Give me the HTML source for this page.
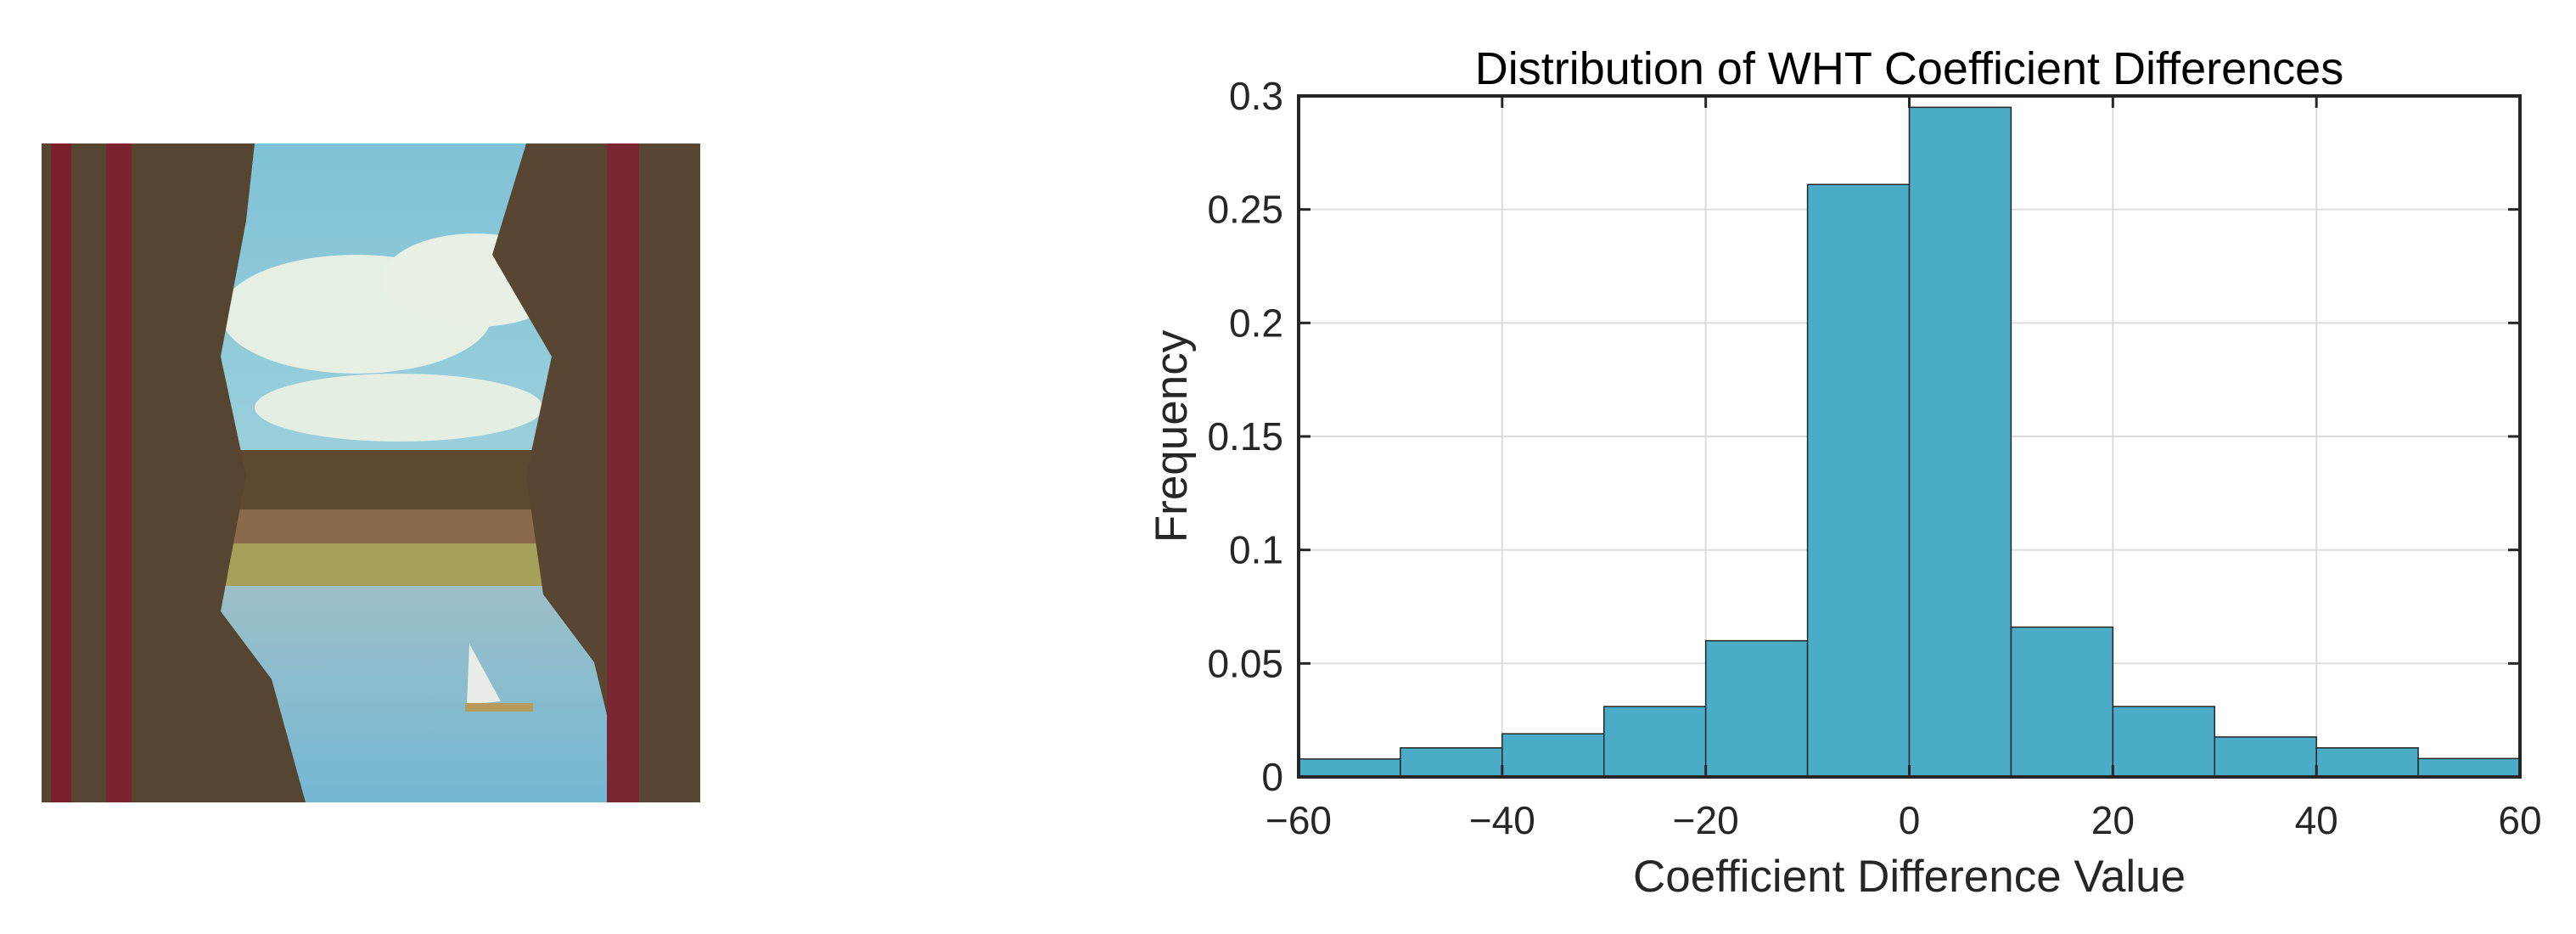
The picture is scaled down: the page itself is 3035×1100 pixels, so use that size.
<!DOCTYPE html>
<html><head><meta charset="utf-8">
<style>
html,body{margin:0;padding:0;background:#fff;}
body{width:3035px;height:1100px;position:relative;overflow:hidden;font-family:"Liberation Sans",Arial,sans-serif;}
svg{position:absolute;left:0;top:0;}
</style></head>
<body>
<svg width="3035" height="1100">
  <defs>
    <linearGradient id="sky" x1="0" y1="0" x2="0" y2="1">
      <stop offset="0" stop-color="#7fc2d6"/><stop offset="1" stop-color="#b9dde0"/>
    </linearGradient>
    <linearGradient id="lake" x1="0" y1="0" x2="0" y2="1">
      <stop offset="0" stop-color="#9cbfc8"/><stop offset="1" stop-color="#74b8d4"/>
    </linearGradient>
  </defs>
  <g id="photo">
    <rect x="49" y="169" width="776" height="776" fill="url(#sky)"/>
    <ellipse cx="420" cy="370" rx="160" ry="70" fill="#e6efe4"/>
    <ellipse cx="560" cy="330" rx="110" ry="55" fill="#e8f0e6"/>
    <ellipse cx="470" cy="480" rx="170" ry="40" fill="#e4eee2"/>
    <rect x="49" y="530" width="776" height="120" fill="#5e4a30"/>
    <rect x="260" y="600" width="400" height="40" fill="#8a6a4a"/>
    <rect x="260" y="640" width="400" height="50" fill="#a7a05a"/>
    <rect x="49" y="690" width="776" height="255" fill="url(#lake)"/>
    <path d="M49 169 H300 L290 260 L260 420 L290 560 L260 720 L320 800 L360 945 H49 Z" fill="#564530"/>
    <path d="M620 169 H825 V945 H740 L700 780 L640 700 L620 560 L650 420 L580 300 Z" fill="#584632"/>
    <rect x="60" y="169" width="24" height="776" fill="#7a1f2a"/>
    <rect x="125" y="169" width="30" height="776" fill="#7c2330"/>
    <rect x="715" y="169" width="38" height="776" fill="#7a2632"/>
    <path d="M553 758 L550 830 L590 826 Z" fill="#e9ece6"/>
    <rect x="548" y="828" width="80" height="10" fill="#b89a5a"/>
  </g>
  <g id="chart"></g>
</svg>
<script>
const binEdges = [-60,-50,-40,-30,-20,-10,0,10,20,30,40,50,60];
const freqValues = [0.0079,0.0128,0.019,0.031,0.060,0.261,0.295,0.066,0.031,0.0176,0.0128,0.0081];
const xTicks = [-60,-40,-20,0,20,40,60];
const xTickLabels = ["\u221260","\u221240","\u221220","0","20","40","60"];
const yTicks = [0,0.05,0.1,0.15,0.2,0.25,0.3];
const yTickLabels = ["0","0.05","0.1","0.15","0.2","0.25","0.3"];

const NS = "http://www.w3.org/2000/svg";
const L = 1530, R = 2969, T = 113, B = 915;
const xs = v => L + (v + 60) / 120 * (R - L);
const ys = v => B - v / 0.3 * (B - T);
const g = document.getElementById('chart');
function mk(tag, attrs, parent) {
  const e = document.createElementNS(NS, tag);
  for (const k in attrs) e.setAttribute(k, attrs[k]);
  (parent || g).appendChild(e);
  return e;
}
mk('rect', {x: L, y: T, width: R - L, height: B - T, fill: '#fff'});
xTicks.forEach(v => {
  const l = mk('line', {x1: xs(v), x2: xs(v), y1: T, y2: B, stroke: '#dcdcdc', 'stroke-width': 2});
  
  
});
yTicks.forEach(v => {
  const l = mk('line', {x1: L, x2: R, y1: ys(v), y2: ys(v), stroke: '#dcdcdc', 'stroke-width': 2});
  
  
});
freqValues.forEach((f, i) => {
  const x0 = xs(binEdges[i]), x1 = xs(binEdges[i + 1]);
  const r = mk('rect', {x: x0, y: ys(f), width: x1 - x0, height: B - ys(f), fill: '#4aacc6', stroke: '#262626', 'stroke-width': 1.5});
  
  
});
const box = mk('rect', {x: L, y: T, width: R - L, height: B - T, fill: 'none', stroke: '#262626', 'stroke-width': 4});


xTicks.forEach((v, i) => {
  mk('line', {x1: xs(v), x2: xs(v), y1: B, y2: B - 14, stroke: '#262626', 'stroke-width': 3});
  mk('line', {x1: xs(v), x2: xs(v), y1: T, y2: T + 14, stroke: '#262626', 'stroke-width': 3});
  const t = mk('text', {x: xs(v), y: 982, 'text-anchor': 'middle', 'font-size': 46, fill: '#262626'});
  t.textContent = xTickLabels[i];
  
  
});
yTicks.forEach((v, i) => {
  mk('line', {x1: L, x2: L + 14, y1: ys(v), y2: ys(v), stroke: '#262626', 'stroke-width': 3});
  mk('line', {x1: R, x2: R - 14, y1: ys(v), y2: ys(v), stroke: '#262626', 'stroke-width': 3});
  const t = mk('text', {x: 1512, y: ys(v) + 16, 'text-anchor': 'end', 'font-size': 46, fill: '#262626'});
  t.textContent = yTickLabels[i];
  
  
});
const title = mk('text', {x: (L + R) / 2, y: 99, 'text-anchor': 'middle', 'font-size': 54, fill: '#000'});
title.textContent = 'Distribution of WHT Coefficient Differences';


const xl = mk('text', {x: (L + R) / 2, y: 1050, 'text-anchor': 'middle', 'font-size': 53, fill: '#262626'});
xl.textContent = 'Coefficient Difference Value';


const yl = mk('text', {x: 0, y: 0, 'text-anchor': 'middle', 'font-size': 53, fill: '#262626', transform: 'translate(1398,514) rotate(-90)'});
yl.textContent = 'Frequency';


</script>
</body></html>
